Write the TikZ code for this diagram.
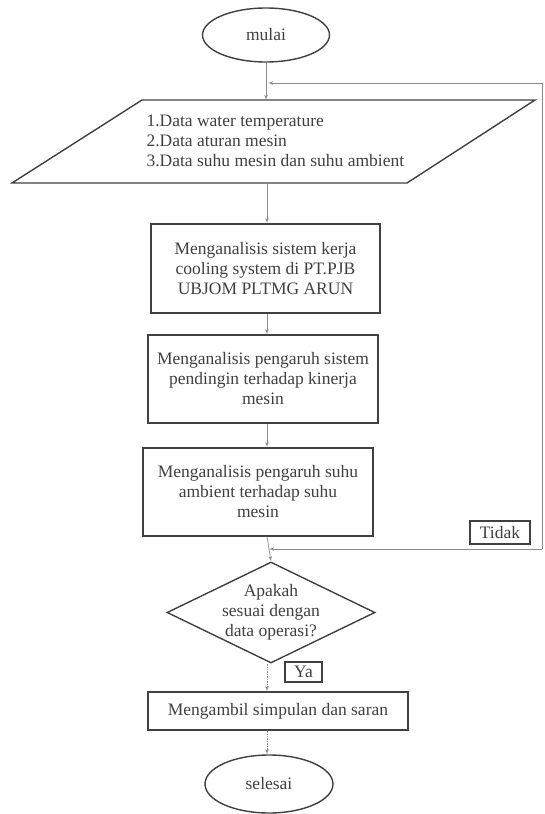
\documentclass[tikz,border=0pt]{standalone}
\usepackage{fontspec}
\setmainfont{Liberation Serif}
\usetikzlibrary{shapes,arrows}
\tikzstyle{block} = [rectangle, draw=black!75, line width=1.4pt, align=center, text=black!75]
\tikzstyle{term} = [ellipse, draw=black!75, line width=1.4pt, text=black!75]
\tikzstyle{decision} = [diamond, draw=black!75, line width=1.4pt, inner sep=0pt]
\tikzstyle{tag} = [rectangle, draw=black!75, line width=1.2pt, inner sep=1pt, text=black!75]
\tikzstyle{line} = [draw, black!45, line width=0.7pt, -latex']
\tikzstyle{dotline} = [draw, black!45, line width=0.7pt, densely dotted, -latex']

\begin{document}
\begin{tikzpicture}[x=1pt, y=-1pt, font=\fontsize{17.5}{20}\selectfont]
\useasboundingbox (0, 0) rectangle (544, 814);

\coordinate (axis) at (267, 0);
\coordinate (rt) at (542, 0);
\coordinate (j1) at (268, 83);
\coordinate (j2) at (269, 549);

\node [term, minimum width=127pt, minimum height=54pt] at (266, 35) (mulai) {mulai};

% input data
\coordinate (dtl) at (142, 100);
\coordinate (dtr) at (535, 100);
\coordinate (dbr) at (407, 183);
\coordinate (dbl) at (12, 183);
\draw [draw=black!75, line width=1.4pt] (dtl) -- (dtr) -- (dbr) -- (dbl) -- cycle;
\node [anchor=west, align=left, text=black!75] at (143, 141) (data) {1.Data water temperature\\2.Data aturan mesin\\3.Data suhu mesin dan suhu ambient};
\path [line] (mulai.south) to (mulai.south |- dtl);

% analysis
\node [block, minimum width=229pt, minimum height=89pt] at (265.5, 268.5) (box1) {Menganalisis sistem kerja\\cooling system di PT.PJB\\UBJOM PLTMG ARUN};
\node [block, minimum width=230pt, minimum height=88pt] at (263, 379) (box2) {Menganalisis pengaruh sistem\\pendingin terhadap kinerja\\mesin};
\node [block, minimum width=230pt, minimum height=88pt] at (258, 492) (box3) {Menganalisis pengaruh suhu\\ambient terhadap suhu\\mesin};
\path [line] (axis |- dbl) to (axis |- box1.north);
\path [line] (axis |- box1.south) to (axis |- box2.north);
\path [line] (axis |- box2.south) to (axis |- box3.north);

% decision
\node [decision, minimum width=208pt, minimum height=101pt, label={[align=center, text=black!75]center:Apakah\\sesuai dengan\\data operasi?}] at (271, 612.5) (dec) {};
\path [line] (axis |- box3.south) to (dec.north);
\node [tag, minimum width=60pt, minimum height=23pt] at (500, 532.5) (tidak) {Tidak};
\path [line] (rt |- j2) to (j2);
\path [line] (rt |- j2) -- (rt |- j1) -- (j1);

% end
\node [tag, minimum width=37pt, minimum height=20pt] at (303.5, 672) (ya) {Ya};
\node [block, minimum width=260pt, minimum height=38pt] at (278, 711) (fin) {Mengambil simpulan dan saran};
\node [term, minimum width=128pt, minimum height=58pt] at (269, 784) (selesai) {selesai};
\path [dotline] (axis |- dec.south) to (axis |- fin.north);
\path [dotline] (axis |- fin.south) to (axis |- selesai.north);

\end{tikzpicture}
\end{document}
